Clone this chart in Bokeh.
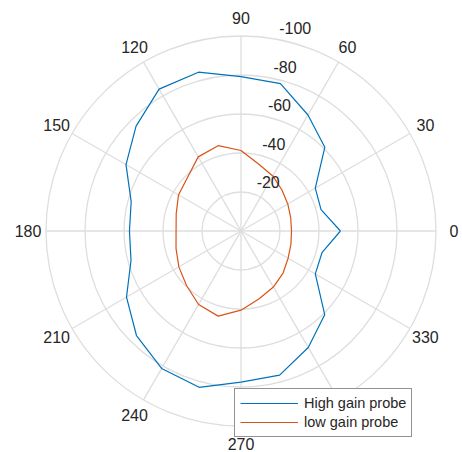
import numpy as np
from bokeh.plotting import figure
from bokeh.models import Legend, LegendItem, Range1d
from bokeh.core.properties import value
from bokeh.embed import file_html
from bokeh.resources import INLINE

# ---- data (dB) ----
angles_deg = list(range(0, 360, 15))
high_gain = [-51.0, -42.5, -44.0, -60.8, -68.7, -78.2, -79.2, -84.3, -84.0, -76.1, -68.1, -58.3,
             -57.2, -58.4, -67.8, -75.8, -81.4, -83.0, -77.5, -76.5, -69.0, -60.7, -44.0, -43.0]
low_gain = [-25.9, -26.4, -27.7, -29.7, -32.6, -35.4, -41.3, -45.3, -43.9, -38.8, -37.0, -34.4,
            -33.3, -34.5, -36.8, -39.5, -43.5, -45.2, -40.6, -36.0, -33.2, -30.5, -27.9, -26.5]
r_ticks = [-20, -40, -60, -80, -100]
theta_ticks = list(range(0, 360, 30))
theta_labels = [str(a) for a in theta_ticks]
series_names = ["High gain probe", "low gain probe"]

# ---- styling ----
BLUE = "#0072BD"
RED = "#D95319"
GRID = "#dedede"
TXT = "#262626"
FONT = "Liberation Sans"

W, H = 462, 452
S = 1.95               # pixels per dB unit
CX, CY = 240.5, 230.5  # polar centre inside the frame (pixels from top-left)
R_MAX = 100.0
R_LABEL = 109.2

p = figure(width=W, height=H, output_backend="svg", toolbar_location=None,
           x_range=Range1d(-CX / S, (W - CX) / S), y_range=Range1d(-(H - CY) / S, CY / S),
           x_axis_type=None, y_axis_type=None, min_border=0)
p.outline_line_color = None
p.background_fill_color = "white"
p.border_fill_color = "white"

# rings
p.circle(x=0, y=0, radius=[-t for t in r_ticks], fill_color=None,
         line_color=GRID, line_width=1.3)

# spokes (full diameters every 30 deg)
sp = np.deg2rad(np.array(theta_ticks[:6], dtype=float))
p.segment(x0=-R_MAX * np.cos(sp), y0=-R_MAX * np.sin(sp),
          x1=R_MAX * np.cos(sp), y1=R_MAX * np.sin(sp),
          line_color=GRID, line_width=1.3)

# data curves
def polar_xy(vals):
    th = np.deg2rad(np.array(angles_deg + [angles_deg[0]], dtype=float))
    r = -np.array(vals + [vals[0]], dtype=float)
    return r * np.cos(th), r * np.sin(th)

hx, hy = polar_xy(high_gain)
lx, ly = polar_xy(low_gain)
rb = p.line(hx, hy, line_color=BLUE, line_width=1.2)
rr = p.line(lx, ly, line_color=RED, line_width=1.2)

# angle labels
th = np.deg2rad(np.array(theta_ticks, dtype=float))
p.text(x=R_LABEL * np.cos(th), y=R_LABEL * np.sin(th), text=theta_labels,
       text_align="center", text_baseline="middle",
       text_font=value(FONT), text_font_size="16px", text_color=TXT)

# radial labels
rt = np.deg2rad(81.7)
rv = -np.array(r_ticks, dtype=float)
p.text(x=rv * np.cos(rt), y=rv * np.sin(rt), text=[str(t) for t in r_ticks],
       text_align="left", text_baseline="middle", x_offset=10, y_offset=-10,
       text_font=value(FONT), text_font_size="16px", text_color=TXT)

legend = Legend(items=[LegendItem(label=series_names[0], renderers=[rb]),
                       LegendItem(label=series_names[1], renderers=[rr])],
                location=(234, 15), margin=0, padding=5, spacing=1,
                label_height=18, glyph_height=18, glyph_width=58, label_standoff=6,
                label_text_font=FONT, label_text_font_size="14.5px", label_text_color=TXT,
                border_line_color=TXT, border_line_width=1,
                background_fill_color="white", background_fill_alpha=1.0)
p.add_layout(legend)

open("out.html", "w").write(file_html(p, INLINE))
